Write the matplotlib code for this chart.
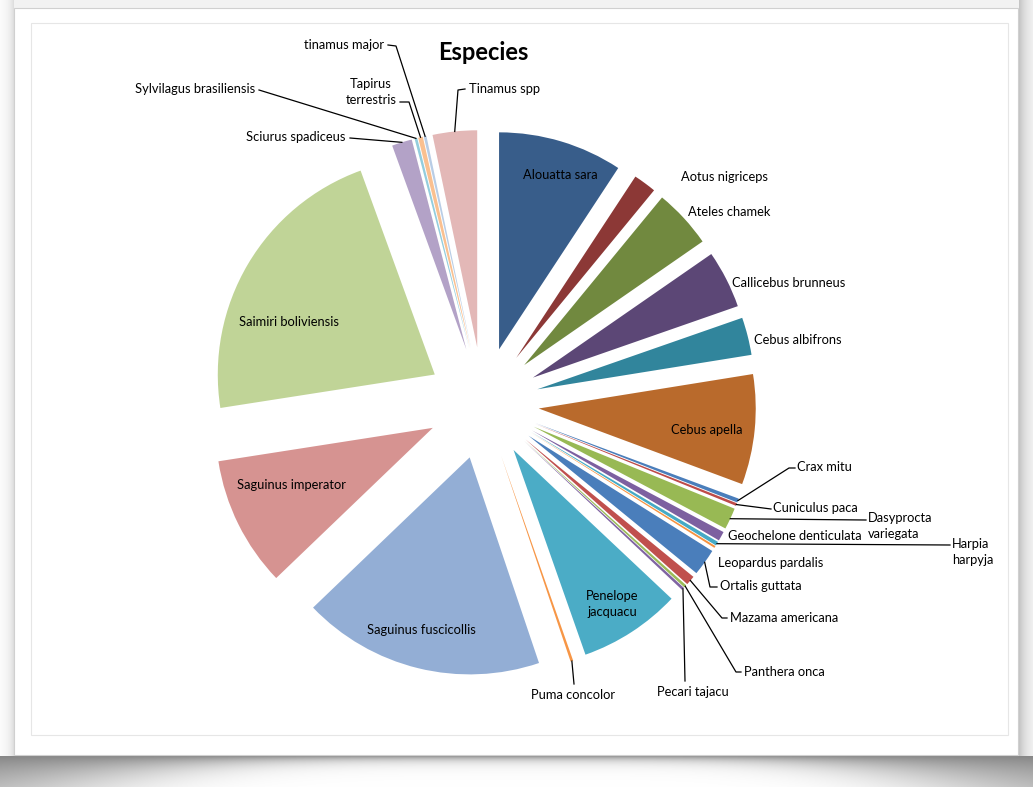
import numpy as np
import matplotlib
matplotlib.use("Agg")
import matplotlib.pyplot as plt

W, H = 1033, 787          # output size in px (dpi 100)
CX, CY = 483, 403         # pie centre, px from top-left
R, EXPL = 217, 56         # radius and explode distance, px

species = ["Alouatta sara", "Aotus nigriceps", "Ateles chamek", "Callicebus brunneus",
           "Cebus albifrons", "Cebus apella", "Crax mitu", "Cuniculus paca",
           "Dasyprocta variegata", "Geochelone denticulata", "Harpia harpyja",
           "Leopardus pardalis", "Ortalis guttata", "Mazama americana", "Panthera onca",
           "Pecari tajacu", "Penelope jacquacu", "Puma concolor", "Saguinus fuscicollis",
           "Saguinus imperator", "Saimiri boliviensis", "Sciurus spadiceus",
           "Sylvilagus brasiliensis", "Tapirus terrestris", "tinamus major", "Tinamus spp"]
share = [9.25, 1.7, 4.4, 4.3, 2.8, 8.2, 0.3, 0.2, 1.6, 0.7, 0.3, 0.15, 2.0, 0.7,
         0.2, 0.2, 7.6, 0.2, 18.0, 9.7, 21.9, 1.5, 0.2, 0.35, 0.2, 3.3]
colors = ["#385D8A", "#8C3836", "#71893F", "#5C4776", "#31859C", "#B96A2C",
          "#4A7EBB", "#BE4B48", "#98B954", "#7D60A0", "#46AAC5", "#F69240",
          "#4A7EBB", "#C0504D", "#9BBB59", "#8064A2", "#4BACC6", "#F79646",
          "#93AED5", "#D69391", "#C0D497", "#B3A2C7", "#93CDDD", "#FAC090",
          "#B9CDE5", "#E3B8B7"]

# label layout: text (x, y, ha) in px from top-left, text override, leader points
labels = {
    0: (560, 175, "center", None, None),
    1: (681, 177, "left", None, None),
    2: (688, 212, "left", None, None),
    3: (732, 283, "left", None, None),
    4: (754, 340, "left", None, None),
    5: (707, 430, "center", None, None),
    6: (797, 467, "left", None, [(795, 468), (789, 468)]),
    7: (773, 508, "left", None, [(771, 509)]),
    8: (868, 526, "left", "Dasyprocta\nvariegata", [(866, 520)]),
    9: (728, 536, "left", None, None),
    10: (952, 552, "left", "Harpia\nharpyja", [(950, 545)]),
    11: (718, 563, "left", None, None),
    12: (720, 586, "left", None, [(717, 587), (710, 587)]),
    13: (730, 618, "left", None, [(727, 618), (722, 618)]),
    14: (744, 672, "left", None, [(741, 672), (736, 672)]),
    15: (693, 692, "center", None, [(685, 681)]),
    16: (612, 604, "center", "Penelope\njacquacu", None),
    17: (573, 695, "center", None, [(574, 684)]),
    18: (421, 630, "center", None, None),
    19: (291, 485, "center", None, None),
    20: (289, 322, "center", None, None),
    21: (346, 137, "right", None, [(350, 138)]),
    22: (255, 89, "right", None, [(259, 90)]),
    23: (371, 92, "center", "Tapirus\nterrestris", [(400, 102), (409, 102)]),
    24: (384, 45, "right", None, [(388, 45), (396, 46)]),
    25: (469, 89, "left", None, [(465, 89), (458, 90)]),
}

FONT = "Lato"
FS = 9.3


def P(x, y):
    return x, H - y


# ---- background: white panel with soft drop shadow ----
yy, xx = np.mgrid[0:H, 0:W].astype(float)
bg = np.ones((H, W))
depth = 5 + 45 * ((xx - W / 2) / (W / 2)) ** 4
bottom = yy > 755
bg[bottom] = 1 - 0.48 * np.exp(-(yy[bottom] - 755) / depth[bottom])
right = (xx > 1018) & ~bottom
bg[right] = 1 - 0.25 * np.exp(-(xx[right] - 1018) / 10)
left = (xx < 14) & ~bottom
bg[left] = 1 - 0.15 * np.exp(-(14 - xx[left]) / 6)
top = (yy < 8) & ~left & ~right
bg[top] = np.minimum(bg[top], 1 - 0.05)

fig = plt.figure(figsize=(W / 100, H / 100), dpi=100)
ax = fig.add_axes([0, 0, 1, 1])
ax.imshow(np.dstack([bg] * 3), extent=(0, W, 0, H), origin="upper", zorder=0)
ax.add_patch(plt.Rectangle(P(14, 755), 1004, 747, fill=False, ec="#D0D0D0", lw=0.8, zorder=0.5))
ax.add_patch(plt.Rectangle(P(31, 735), 977, 712, fill=False, ec="#E6E6E6", lw=0.8, zorder=0.5))

wedges, _ = ax.pie(share, colors=colors, startangle=90, counterclock=False,
                   radius=R, center=P(CX, CY), explode=[EXPL] * len(share),
                   wedgeprops=dict(linewidth=0))
ax.set_xlim(0, W)
ax.set_ylim(0, H)
ax.set_aspect("auto")
ax.axis("off")

for i, (x, y, ha, text, pts) in labels.items():
    s = text if text else species[i]
    ax.text(*P(x, y), s, ha=ha, va="center", fontsize=FS, family=FONT,
            color="black", linespacing=1.3, zorder=3)
    if pts:
        w = wedges[i]
        mid = np.deg2rad((w.theta1 + w.theta2) / 2)
        end = (w.center[0] + R * np.cos(mid), w.center[1] + R * np.sin(mid))
        line = [P(*p) for p in pts] + [end]
        ax.plot([p[0] for p in line], [p[1] for p in line], color="black", lw=0.9, zorder=3)

ax.text(*P(483, 53), "Especies", ha="center", va="center", fontsize=17,
        fontweight="bold", family=FONT, zorder=3)

fig.savefig("out.png", dpi=100)
